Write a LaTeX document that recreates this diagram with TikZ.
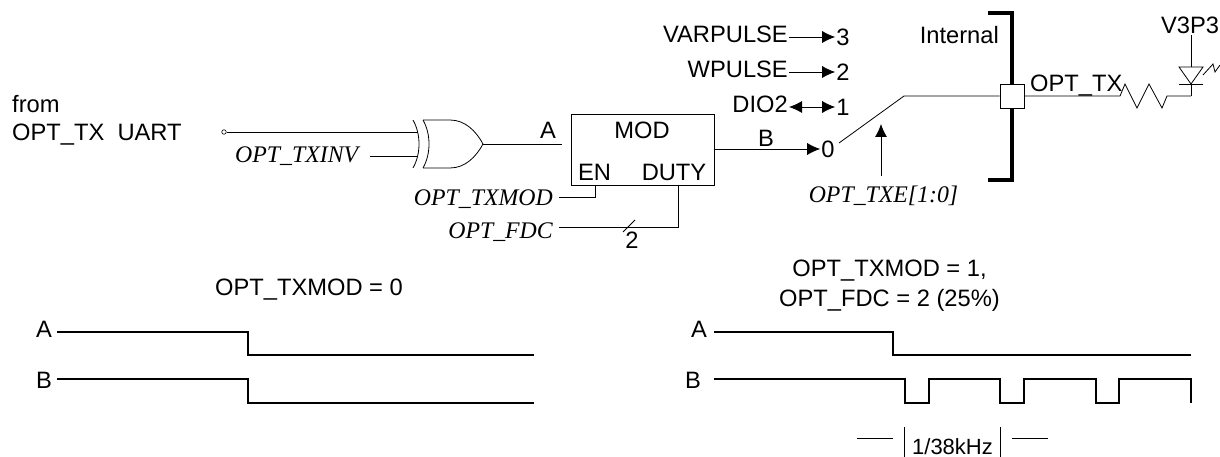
\documentclass[tikz,border=0pt]{standalone}
\usepackage{fontspec}
\setmainfont{Liberation Sans}
\newfontfamily\sigfont{Liberation Serif}
\usetikzlibrary{arrows.meta}
\begin{document}
\begin{tikzpicture}
  [x=1pt,y=-1pt,
   wire/.style={draw=black,line width=0.8pt},
   wave/.style={draw=black,line width=1.2pt},
   thickbar/.style={draw=black,line width=4.6pt},
   txt/.style={inner sep=0pt,font=\fontsize{23.7}{26}\selectfont},
   pinlbl/.style={txt,inner xsep=1pt,text height=12pt,text depth=0pt},
   pindig/.style={txt,inner xsep=1pt,text height=17pt,text depth=0pt},
   sig/.style={inner sep=0pt,font=\fontsize{23.8}{26}\selectfont\sigfont\itshape},
   tip/.style={-{Latex[length=13pt,width=12pt]}},
   tips/.style={{Latex[length=13pt,width=12pt]}-{Latex[length=13pt,width=12pt]}}]
  \useasboundingbox (0,0) rectangle (1220,457);
  % left input
  \node (from) at (12,113) [txt,anchor=base west] {from};
  \node (uart) at (12,141) [txt,anchor=base west] {OPT\_TX\ \ UART};
  \node (pin) at (224,132) [circle,draw=black,line width=0.6pt,inner sep=0pt,minimum size=4.5pt] {};
  \coordinate (gatein1) at (418,132);
  \coordinate (gatein2) at (418,156);
  \node (txinv) at (235,163) [sig,anchor=base west] {OPT\_TXINV};
  \coordinate (invstart) at (370,156);
  \draw [wire] (pin) to (gatein1);
  \draw [wire] (invstart) to (gatein2);
  % xor gate
  \draw [wire] (413,120) .. controls (421,134) and (421,154) .. (413,168);
  \draw [wire] (423,120) .. controls (431,134) and (431,154) .. (423,168);
  \draw [wire] (423,120) -- (450,120) .. controls (465,120) and (476,131) .. (483,144)
     .. controls (476,157) and (465,168) .. (450,168) -- (423,168);
  \coordinate (gateout) at (483,144);
  \coordinate (aend) at (562,144);
  \node (alabel) at (548,139) [txt,anchor=base] {A};
  \draw [wire] (gateout) to (aend);
  % mod block
  \node (mod) at (642.5,149.5) [draw=black,line width=0.9pt,minimum width=143pt,minimum height=71pt,inner sep=0pt] {};
  \node (modlabel) at (642,139) [txt,anchor=base] {MOD};
  \node (en) at (594.5,181) [txt,anchor=base] {EN};
  \node (duty) at (674,181) [txt,anchor=base] {DUTY};
  \coordinate (encorner) at (595,197);
  \coordinate (dutycorner) at (678,227);
  \node (txmod) at (553,205) [sig,anchor=base east] {OPT\_TXMOD};
  \node (fdc) at (553,238) [sig,anchor=base east] {OPT\_FDC};
  \coordinate (txmodend) at (559,197);
  \coordinate (fdcend) at (559,227);
  \draw [wire] (txmodend) -- (encorner) -- (encorner |- mod.south);
  \draw [wire] (fdcend) -- (dutycorner) -- (dutycorner |- mod.south);
  \draw [wire] (623,232) -- (635,220);
  \node (width) at (632,248) [txt,anchor=base] {2};
  % switch
  \coordinate (modout) at (714,149);
  \node (zero) at (828,149) [pindig] {0};
  \node (blabel) at (766,147) [txt,anchor=base] {B};
  \draw [wire,tip] (modout) to (zero.west);
  \node (one) at (843,107) [pindig] {1};
  \node (two) at (843,72) [pindig] {2};
  \node (three) at (843,37) [pindig] {3};
  \node (dio) at (789,107) [pinlbl,anchor=east] {DIO2};
  \node (wpulse) at (789,72) [pinlbl,anchor=east] {WPULSE};
  \node (varpulse) at (789,37) [pinlbl,anchor=east] {VARPULSE};
  \draw [wire,tips] (dio.east) to (one.west);
  \draw [wire,tip] (wpulse.east) to (two.west);
  \draw [wire,tip] (varpulse.east) to (three.west);
  \coordinate (swfree) at (839,143);
  \coordinate (swknee) at (904,96);
  % chip edge
  \node (internal) at (999,44) [txt,anchor=base east] {Internal};
  \coordinate (brtop) at (988,13);
  \coordinate (brbot) at (988,180);
  \draw [thickbar] (brtop) -- (1012,13) -- (1012,180) -- (brbot);
  \node (pad) at (1012,96) [draw=black,fill=white,line width=0.7pt,minimum size=24pt,inner sep=0pt] {};
  \draw [wire] (swfree) -- (swknee) -- (pad);
  \node (txe) at (883.5,202) [sig,anchor=base] {OPT\_TXE[1:0]};
  \coordinate (txestart) at (881,176);
  \coordinate (txeend) at (881,124);
  \draw [wire,tip] (txestart) to (txeend);
  % output
  \node (optx) at (1030,92) [txt,anchor=base west] {OPT\_TX};
  \coordinate (resl) at (1120,96);
  \coordinate (resr) at (1191,96);
  \draw [wire] (pad) -- (resl) -- (1125,84) -- (1137,108) -- (1149,84) -- (1162,108) -- (1167,96) -- (resr);
  \node (v3p3) at (1190,34) [txt,anchor=base] {V3P3};
  \coordinate (ledbar) at (1191,67);
  \draw [wire] (v3p3.south -| ledbar) ++(0,1) -- (ledbar);
  \draw [wire] (1179,67) -- (1203,67) -- (1191,84) -- cycle;
  \draw [wire] (1179,84) -- (1203,84);
  \draw [wire] (1191,84) -- (resr);
  \draw [wire] (1203,75) -- (1213,64) -- (1215,72) -- (1220,65);
  % left waveform
  \node (title1) at (309,295) [txt,anchor=base] {OPT\_TXMOD = 0};
  \node (la) at (44,337) [txt,anchor=base] {A};
  \node (lb) at (44,388) [txt,anchor=base] {B};
  \coordinate (lastart) at (57,332);
  \coordinate (lbstart) at (57,379);
  \draw [wave] (lastart) -- (248,332) -- (248,355) -- (534,355);
  \draw [wave] (lbstart) -- (248,379) -- (248,403) -- (534,403);
  % right waveform
  \node (title2a) at (889.5,276) [txt,anchor=base] {OPT\_TXMOD = 1,};
  \node (title2b) at (889.5,306) [txt,anchor=base] {OPT\_FDC = 2 (25\%)};
  \node (ra) at (699,337) [txt,anchor=base] {A};
  \node (rb) at (693,388) [txt,anchor=base] {B};
  \coordinate (rastart) at (714,332);
  \coordinate (rbstart) at (714,379);
  \draw [wave] (rastart) -- (893,332) -- (893,355) -- (1191,355);
  \draw [wave] (rbstart) -- (905,379) -- (905,403) -- (929,403) -- (929,379)
     -- (1000,379) -- (1000,403) -- (1024,403) -- (1024,379)
     -- (1096,379) -- (1096,403) -- (1119,403) -- (1119,379)
     -- (1191,379) -- (1191,403);
  \node (period) at (952.5,454) [txt,anchor=base,font=\fontsize{22}{24}\selectfont] {1/38kHz};
  \draw [wire] (904,427) -- (904,457);
  \draw [wire] (1000,427) -- (1000,457);
  \draw [wire] (857,438) -- (893,438);
  \draw [wire] (1012,438) -- (1048,438);
\end{tikzpicture}
\end{document}
